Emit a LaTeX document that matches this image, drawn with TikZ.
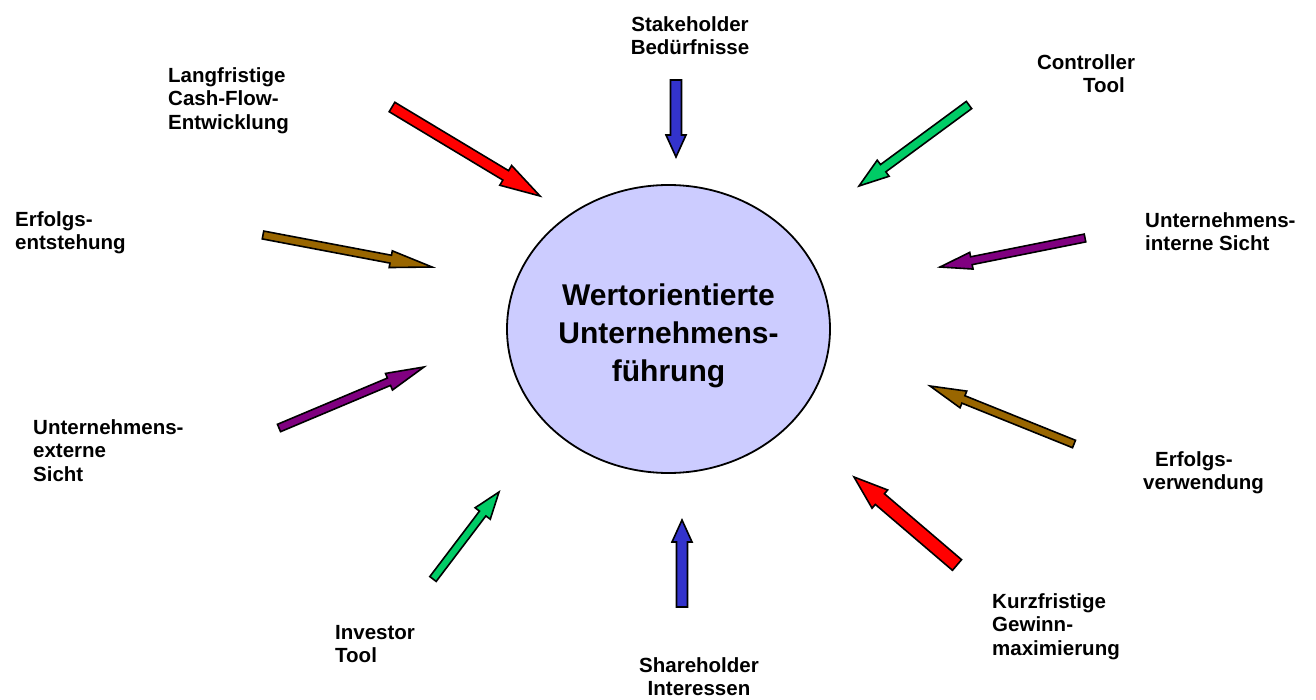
\documentclass[tikz,border=0pt]{standalone}
\usepackage{fontspec}
\setmainfont{Liberation Sans}
\usetikzlibrary{calc,shapes.geometric}

\definecolor{arrRed}{RGB}{255,0,0}
\definecolor{arrBlue}{RGB}{51,51,204}
\definecolor{arrGreen}{RGB}{0,204,102}
\definecolor{arrBrown}{RGB}{153,102,0}
\definecolor{arrPurple}{RGB}{128,0,128}
\definecolor{ellFill}{RGB}{204,204,255}

% block arrow: #1 fill colour, #2 tail, #3 tip,
% #4 half shaft width, #5 half head width, #6 head length
\newcommand{\blockarrow}[6]{%
  \coordinate (ba-base) at ($(#3)!#6!(#2)$);
  \draw[blockstyle,fill=#1]
    ($(#2)!#4!90:(#3)$) --
    ($(ba-base)!#4!90:(#3)$) --
    ($(ba-base)!#5!90:(#3)$) --
    (#3) --
    ($(ba-base)!#5!-90:(#3)$) --
    ($(ba-base)!#4!-90:(#3)$) --
    ($(#2)!#4!-90:(#3)$) -- cycle;
}

\tikzset{
  blockstyle/.style={draw=black, line width=1.6pt, line join=miter},
  lbl/.style={inner sep=0pt, font=\fontsize{20.5}{23.5}\selectfont\bfseries},
  hub/.style={ellipse, draw=black, line width=1.8pt, fill=ellFill,
    minimum width=323pt, minimum height=288pt, inner sep=0pt},
  hubtext/.style={inner sep=0pt, align=center,
    font=\fontsize{30}{38}\selectfont\bfseries}
}

\begin{document}
\begin{tikzpicture}[x=1pt,y=-1pt]
\useasboundingbox (0,0) rectangle (1316,700);

% central topic
\node[hub] (hub) at (668.5,329) {};
\node[hubtext] (hubtxt) at (668.5,336) {Wertorientierte\\Unternehmens-\\führung};

% labels around the hub
\node[lbl, align=center, anchor=north] (stake) at (690,16) {Stakeholder\\Bedürfnisse};
\node[lbl, align=left, anchor=north west] (lang) at (168,67) {Langfristige\\Cash-Flow-\\Entwicklung};
\node[lbl, align=center, anchor=north] (ctrl) at (1086,54) {Controller\\\hspace*{36pt}Tool};
\node[lbl, align=left, anchor=north west] (eents) at (15,211) {Erfolgs-\\entstehung};
\node[lbl, align=left, anchor=north west] (uint) at (1145,212) {Unternehmens-\\interne Sicht};
\node[lbl, align=left, anchor=north west] (uext) at (33,419) {Unternehmens-\\externe\\Sicht};
\node[lbl, align=left, anchor=north west] (everw) at (1143,451) {\hspace*{12pt}Erfolgs-\\verwendung};
\node[lbl, align=left, anchor=north west] (inv) at (335,625) {Investor\\Tool};
\node[lbl, align=center, anchor=north] (share) at (699,657) {Shareholder\\Interessen};
\node[lbl, align=left, anchor=north west] (kurz) at (992,593) {Kurzfristige\\Gewinn-\\maximierung};

% arrow end points
\coordinate (lang-s) at (392,107);  \coordinate (lang-e) at (540,196);
\coordinate (stake-s) at (676,80);  \coordinate (stake-e) at (676,157);
\coordinate (ctrl-s) at (969,105);  \coordinate (ctrl-e) at (859,186);
\coordinate (uint-s) at (1085,238); \coordinate (uint-e) at (940,267);
\coordinate (eents-s) at (263,235); \coordinate (eents-e) at (432,267);
\coordinate (uext-s) at (279,428);  \coordinate (uext-e) at (424,367);
\coordinate (everw-s) at (1074,444);\coordinate (everw-e) at (930,386);
\coordinate (inv-s) at (433,579);   \coordinate (inv-e) at (499,492);
\coordinate (share-s) at (682,607); \coordinate (share-e) at (682,520);
\coordinate (kurz-s) at (957,565);  \coordinate (kurz-e) at (854,477);

% arrows pointing at the hub
\blockarrow{arrRed}{lang-s}{lang-e}{5.5pt}{11.5pt}{40pt}
\blockarrow{arrBlue}{stake-s}{stake-e}{5.5pt}{10pt}{22pt}
\blockarrow{arrGreen}{ctrl-s}{ctrl-e}{4.5pt}{10pt}{30pt}
\blockarrow{arrPurple}{uint-s}{uint-e}{4pt}{8.5pt}{32pt}
\blockarrow{arrBrown}{eents-s}{eents-e}{4pt}{8.5pt}{42pt}
\blockarrow{arrPurple}{uext-s}{uext-e}{4pt}{9pt}{38pt}
\blockarrow{arrBrown}{everw-s}{everw-e}{4pt}{9pt}{36pt}
\blockarrow{arrGreen}{inv-s}{inv-e}{4pt}{9.5pt}{27pt}
\blockarrow{arrBlue}{share-s}{share-e}{5.5pt}{10pt}{22pt}
\blockarrow{arrRed}{kurz-s}{kurz-e}{7pt}{12pt}{34pt}
\end{tikzpicture}
\end{document}
